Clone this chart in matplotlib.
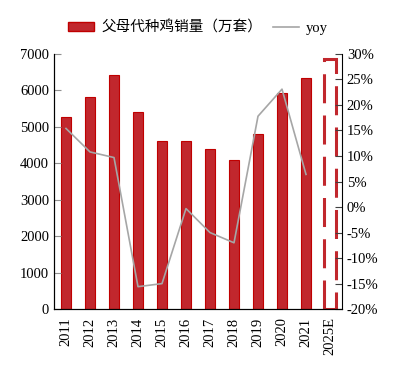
import matplotlib
matplotlib.use("Agg")
import matplotlib.pyplot as plt
from matplotlib.lines import Line2D
from matplotlib.patches import Patch

plt.rcParams['font.family'] = ['Liberation Serif', 'Noto Sans CJK SC']

years = ["2011", "2012", "2013", "2014", "2015", "2016", "2017", "2018",
         "2019", "2020", "2021", "2025E"]
sales = [5260, 5830, 6415, 5410, 4620, 4620, 4385, 4090, 4810, 5940, 6335]
forecast = 6850
yoy = [15.4, 10.8, 9.7, -15.6, -15.0, -0.3, -5.0, -7.0, 17.8, 23.1, 6.4]

bar_red = "#C1272D"
edge_red = "#C00000"

fig = plt.figure(figsize=(4, 3.72), dpi=100)
ax = fig.add_axes([0.135, 0.169, 0.72, 0.686])

x = list(range(len(years)))
ax.bar(x[:len(sales)], sales, width=0.42, color=bar_red, edgecolor=edge_red,
       linewidth=0.8)
ax.bar(x[-1], forecast, width=0.46, facecolor="white", edgecolor=bar_red,
       linewidth=2.2, linestyle=(0, (9.5, 4)))

ax.set_xlim(-0.5, len(years) - 0.5)
ax.set_ylim(0, 7000)
ax.set_yticks(range(0, 7001, 1000))
ax.set_xticks(x)
ax.set_xticklabels(years, rotation=90, fontsize=10.5)
ax.tick_params(axis='y', direction='in', length=5, color='#909090', labelsize=10.5)
ax.tick_params(axis='x', length=0, pad=6)
ax.spines['top'].set_visible(False)
ax.spines['right'].set_visible(False)

ax2 = ax.twinx()
ax2.plot(x[:len(yoy)], yoy, color="#A6A6A6", linewidth=1.2)
ax2.set_ylim(-20, 30)
ax2.set_yticks(range(-20, 31, 5))
ax2.set_yticklabels([f"{v}%" for v in range(-20, 31, 5)])
ax2.tick_params(axis='y', direction='in', length=5, color='#404040', labelsize=10.5)
ax2.spines['top'].set_visible(False)

handles = [Patch(facecolor=bar_red, edgecolor=edge_red),
           Line2D([], [], color="#A6A6A6", linewidth=1.2)]
fig.legend(handles, ["父母代种鸡销量（万套）", "yoy"], loc='center',
           bbox_to_anchor=(0.495, 0.925), ncol=2, frameon=False, fontsize=10.5,
           handlelength=1.8, handleheight=0.6, columnspacing=0.7,
           handletextpad=0.5)

plt.savefig("out.png", dpi=100)
plt.close()
